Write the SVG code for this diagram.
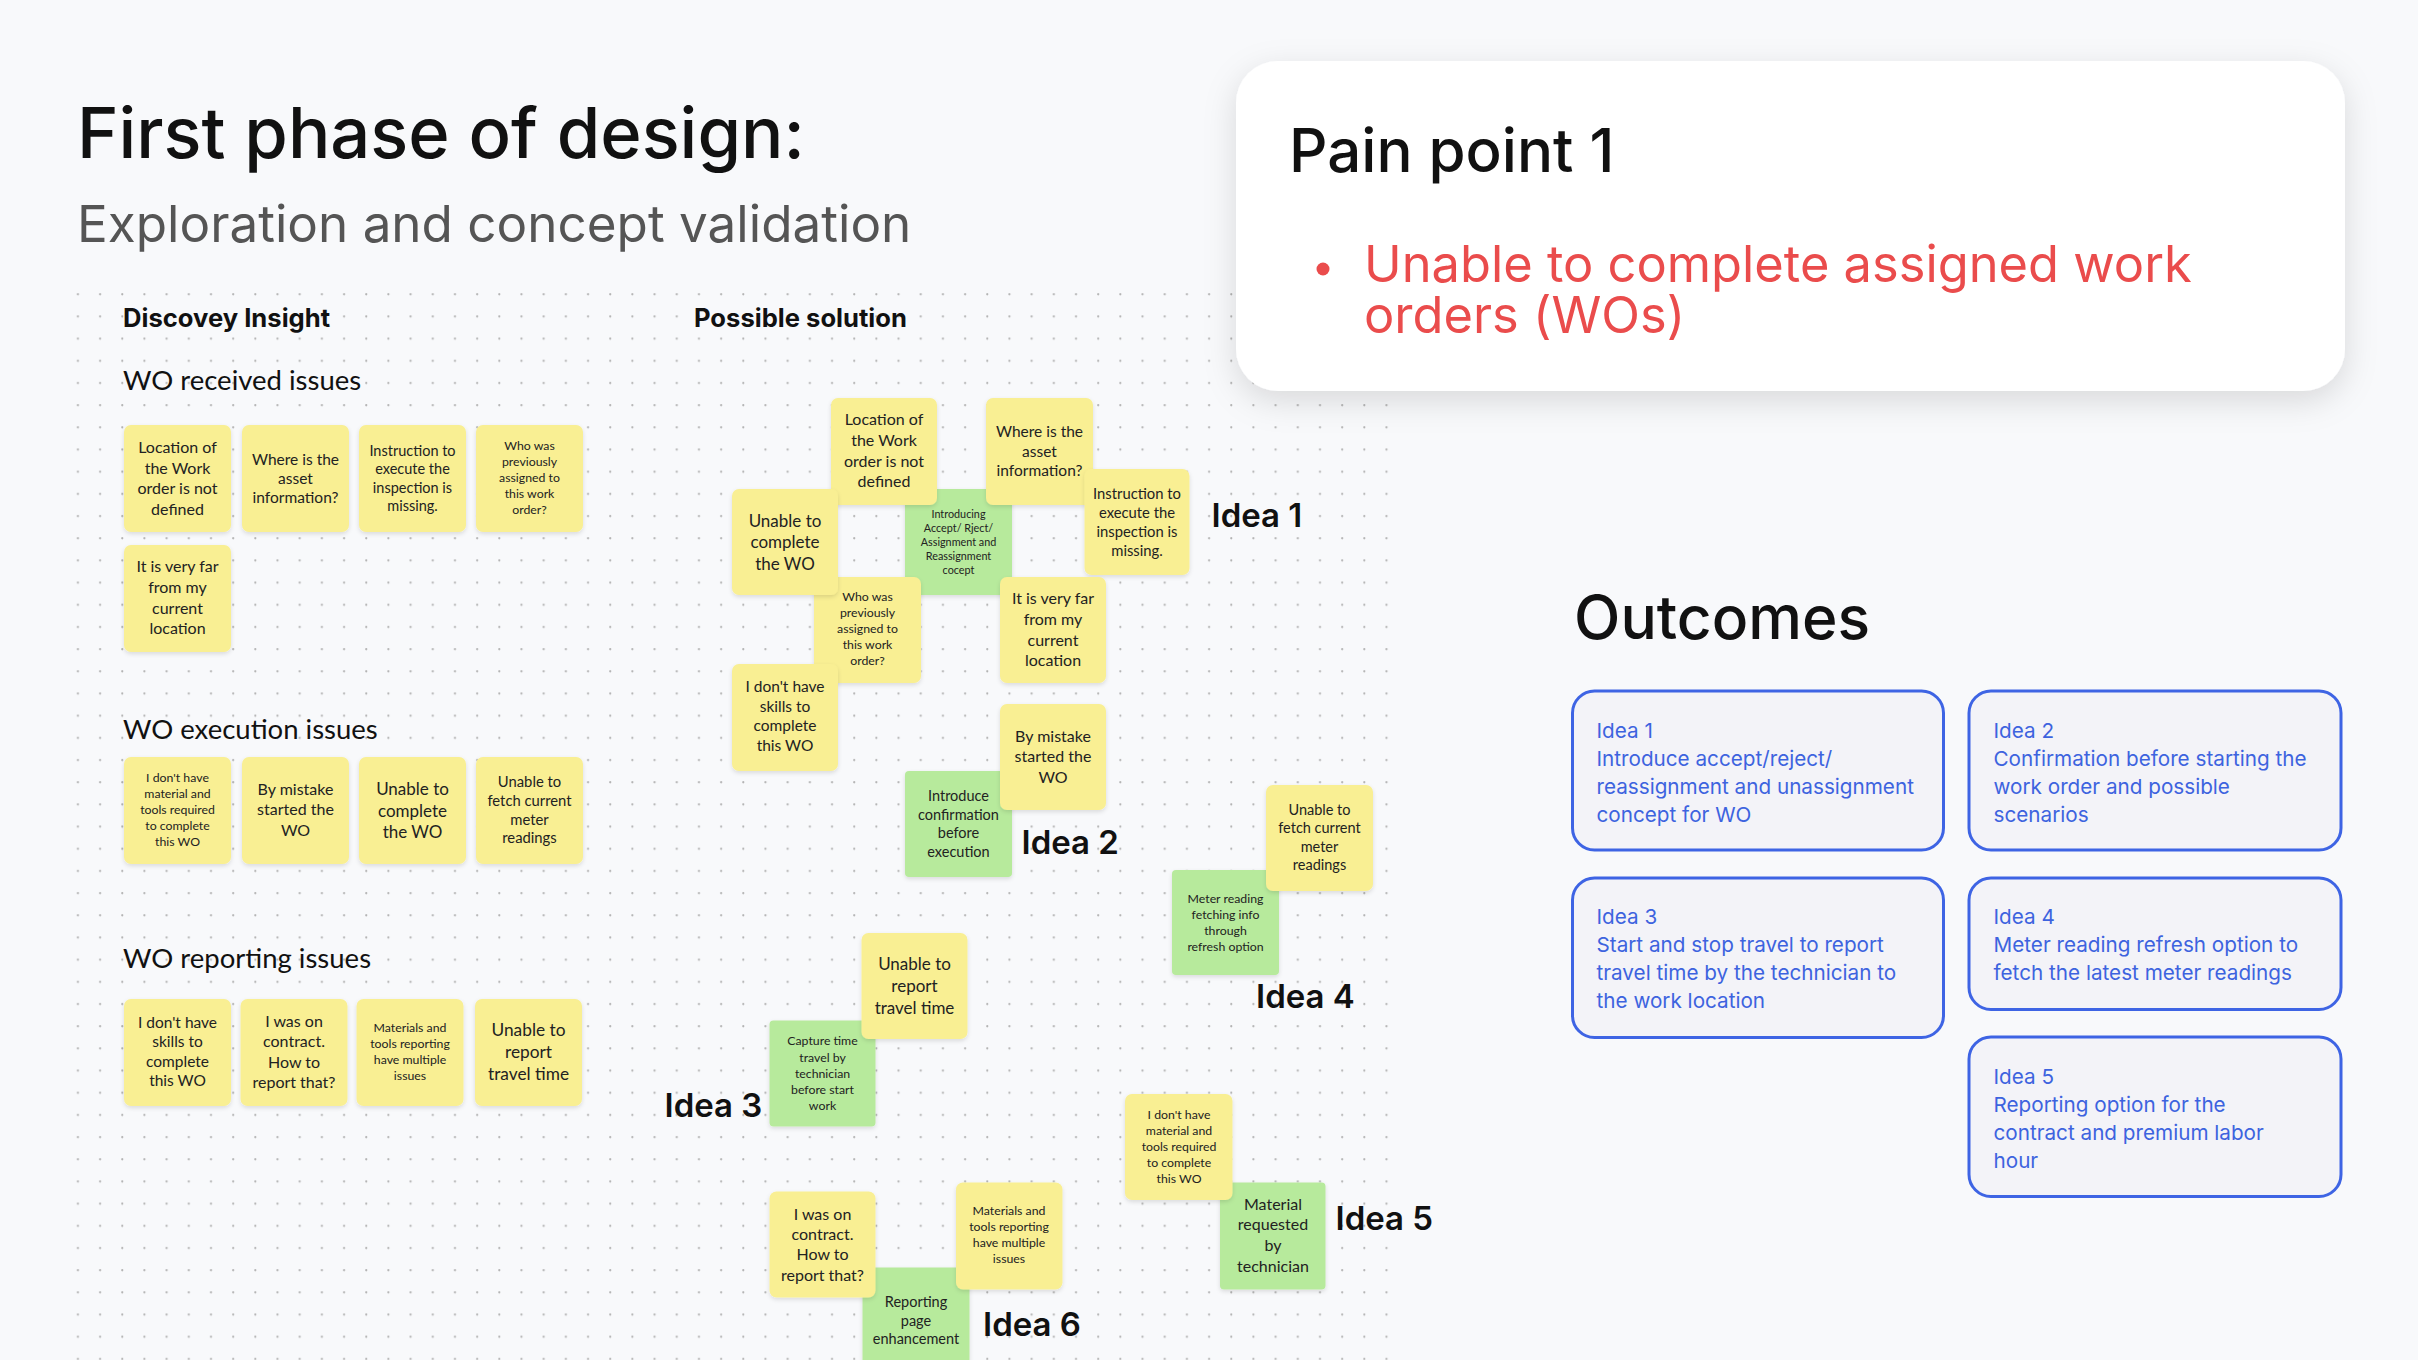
<svg xmlns="http://www.w3.org/2000/svg" width="2418" height="1360" viewBox="0 0 2418 1360">
<defs>
<style>
.bg{fill:#f8f9fb}
.y{fill:#f9ef93;filter:url(#ns)}
.g{fill:#b7ea9c;filter:url(#ns)}
.st{font-family:Lato,"Open Sans","Liberation Sans",sans-serif;fill:#222;text-anchor:middle}
.hd{font-family:Inter,"Liberation Sans",sans-serif}
.sec{font-family:Lato,"Open Sans","Liberation Sans",sans-serif;font-size:27.5px;fill:#111}
.idea{font-family:Inter,"Liberation Sans",sans-serif;font-size:33px;font-weight:600;fill:#111}
.ob{fill:#f3f3f8;stroke:#3e64e4;stroke-width:3}
.ot{font-family:Inter,"Liberation Sans",sans-serif;font-size:20.7px;fill:#3d63df}
</style>
<filter id="ns" x="-10%" y="-10%" width="120%" height="130%">
<feDropShadow dx="0" dy="2" stdDeviation="2" flood-color="#000" flood-opacity="0.12"/>
</filter>
<filter id="cs" x="-10%" y="-20%" width="120%" height="150%">
<feDropShadow dx="0" dy="10" stdDeviation="16" flood-color="#000" flood-opacity="0.13"/>
</filter>
<pattern id="dots" x="76.7" y="293.1" width="22.18" height="22.18" patternUnits="userSpaceOnUse">
<circle cx="1.2" cy="1.2" r="1.1" fill="#b3b3b3"/>
</pattern>
</defs>
<rect class="bg" x="0" y="0" width="2418" height="1360"/>
<rect x="70" y="285" width="1322" height="1075" fill="url(#dots)"/>

<g id="title">
<text class="hd" x="77" y="158" font-size="70.5" font-weight="500" fill="#111">First phase of design:</text>
<text class="hd" x="77" y="242" font-size="51.2" fill="#555">Exploration and concept validation</text>
</g>
<g id="col-heads">
<text class="hd" x="123" y="327" font-size="25.6" font-weight="700" fill="#111">Discovey Insight</text>
<text class="hd" x="694" y="327" font-size="25.6" font-weight="700" fill="#111">Possible solution</text>
<text class="sec" x="123" y="390">WO received issues</text>
<text class="sec" x="123" y="739">WO execution issues</text>
<text class="sec" x="123" y="968">WO reporting issues</text>
</g>

<g id="left-received-1"><rect class="y" x="124" y="425" width="107" height="107" rx="7"/>
<text class="st" font-size="16" y="453"><tspan x="177.5">Location of</tspan><tspan x="177.5" dy="20.5">the Work</tspan><tspan x="177.5" dy="20.5">order is not</tspan><tspan x="177.5" dy="20.5">defined</tspan></text></g>
<g id="left-received-2"><rect class="y" x="242" y="425" width="107" height="107" rx="7"/>
<text class="st" font-size="15.5" y="464.5"><tspan x="295.5">Where is the</tspan><tspan x="295.5" dy="19.2">asset</tspan><tspan x="295.5" dy="19.2">information?</tspan></text></g>
<g id="left-received-3"><rect class="y" x="359" y="425" width="107" height="107" rx="7"/>
<text class="st" font-size="14.5" y="455.8"><tspan x="412.5">Instruction to</tspan><tspan x="412.5" dy="18.4">execute the</tspan><tspan x="412.5" dy="18.4">inspection is</tspan><tspan x="412.5" dy="18.4">missing.</tspan></text></g>
<g id="left-received-4"><rect class="y" x="476" y="425" width="107" height="107" rx="7"/>
<text class="st" font-size="12.3" y="449.8"><tspan x="529.5">Who was</tspan><tspan x="529.5" dy="16">previously</tspan><tspan x="529.5" dy="16">assigned to</tspan><tspan x="529.5" dy="16">this work</tspan><tspan x="529.5" dy="16">order?</tspan></text></g>
<g id="left-received-5"><rect class="y" x="124" y="545" width="107" height="107" rx="7"/>
<text class="st" font-size="16" y="572"><tspan x="177.5">It is very far</tspan><tspan x="177.5" dy="20.8">from my</tspan><tspan x="177.5" dy="20.8">current</tspan><tspan x="177.5" dy="20.8">location</tspan></text></g>

<g id="left-exec-1"><rect class="y" x="124" y="757" width="107" height="107" rx="7"/>
<text class="st" font-size="12.3" y="782"><tspan x="177.5">I don't have</tspan><tspan x="177.5" dy="16">material and</tspan><tspan x="177.5" dy="16">tools required</tspan><tspan x="177.5" dy="16">to complete</tspan><tspan x="177.5" dy="16">this WO</tspan></text></g>
<g id="left-exec-2"><rect class="y" x="242" y="757" width="107" height="107" rx="7"/>
<text class="st" font-size="16" y="794.6"><tspan x="295.5">By mistake</tspan><tspan x="295.5" dy="20.7">started the</tspan><tspan x="295.5" dy="20.7">WO</tspan></text></g>
<g id="left-exec-3"><rect class="y" x="359" y="757" width="107" height="107" rx="7"/>
<text class="st" font-size="17" y="795"><tspan x="412.5">Unable to</tspan><tspan x="412.5" dy="21.5">complete</tspan><tspan x="412.5" dy="21.5">the WO</tspan></text></g>
<g id="left-exec-4"><rect class="y" x="476" y="757" width="107" height="107" rx="7"/>
<text class="st" font-size="14.8" y="787"><tspan x="529.5">Unable to</tspan><tspan x="529.5" dy="18.8">fetch current</tspan><tspan x="529.5" dy="18.8">meter</tspan><tspan x="529.5" dy="18.8">readings</tspan></text></g>

<g id="left-report-1"><rect class="y" x="124" y="999" width="107" height="107" rx="7"/>
<text class="st" font-size="15.5" y="1027.8"><tspan x="177.5">I don't have</tspan><tspan x="177.5" dy="19.5">skills to</tspan><tspan x="177.5" dy="19.5">complete</tspan><tspan x="177.5" dy="19.5">this WO</tspan></text></g>
<g id="left-report-2"><rect class="y" x="240.5" y="999" width="107" height="107" rx="7"/>
<text class="st" font-size="16" y="1027"><tspan x="294">I was on</tspan><tspan x="294" dy="20.4">contract.</tspan><tspan x="294" dy="20.4">How to</tspan><tspan x="294" dy="20.4">report that?</tspan></text></g>
<g id="left-report-3"><rect class="y" x="356.5" y="999" width="107" height="107" rx="7"/>
<text class="st" font-size="12.3" y="1032"><tspan x="410">Materials and</tspan><tspan x="410" dy="16">tools reporting</tspan><tspan x="410" dy="16">have multiple</tspan><tspan x="410" dy="16">issues</tspan></text></g>
<g id="left-report-4"><rect class="y" x="475" y="999" width="107" height="107" rx="7"/>
<text class="st" font-size="17.3" y="1036"><tspan x="528.5">Unable to</tspan><tspan x="528.5" dy="21.8">report</tspan><tspan x="528.5" dy="21.8">travel time</tspan></text></g>

<g id="idea1-concept"><rect class="g" x="905" y="489" width="107" height="106" rx="4"/>
<text class="st" font-size="10.8" y="517.9"><tspan x="958.5">Introducing</tspan><tspan x="958.5" dy="14">Accept/ Rject/</tspan><tspan x="958.5" dy="14">Assignment and</tspan><tspan x="958.5" dy="14">Reassignment</tspan><tspan x="958.5" dy="14">cocept</tspan></text></g>
<g id="idea1-location"><rect class="y" x="831" y="398" width="106" height="107" rx="7"/>
<text class="st" font-size="16" y="425.3"><tspan x="884">Location of</tspan><tspan x="884" dy="20.7">the Work</tspan><tspan x="884" dy="20.7">order is not</tspan><tspan x="884" dy="20.7">defined</tspan></text></g>
<g id="idea1-asset"><rect class="y" x="986" y="398" width="107" height="107" rx="7"/>
<text class="st" font-size="15.5" y="436.8"><tspan x="1039.5">Where is the</tspan><tspan x="1039.5" dy="19.7">asset</tspan><tspan x="1039.5" dy="19.7">information?</tspan></text></g>
<g id="idea1-who"><rect class="y" x="814" y="577" width="107" height="106" rx="7"/>
<text class="st" font-size="12.3" y="600.8"><tspan x="867.5">Who was</tspan><tspan x="867.5" dy="16">previously</tspan><tspan x="867.5" dy="16">assigned to</tspan><tspan x="867.5" dy="16">this work</tspan><tspan x="867.5" dy="16">order?</tspan></text></g>
<g id="idea1-unable"><rect class="y" x="732" y="489" width="106" height="106" rx="7"/>
<text class="st" font-size="17" y="526.6"><tspan x="785">Unable to</tspan><tspan x="785" dy="21.5">complete</tspan><tspan x="785" dy="21.5">the WO</tspan></text></g>
<g id="idea1-instruction"><rect class="y" x="1084.5" y="469" width="105" height="106" rx="7"/>
<text class="st" font-size="14.8" y="499.2"><tspan x="1137">Instruction to</tspan><tspan x="1137" dy="18.8">execute the</tspan><tspan x="1137" dy="18.8">inspection is</tspan><tspan x="1137" dy="18.8">missing.</tspan></text></g>
<g id="idea1-far"><rect class="y" x="1000" y="577" width="106" height="106" rx="7"/>
<text class="st" font-size="16" y="604.3"><tspan x="1053">It is very far</tspan><tspan x="1053" dy="20.6">from my</tspan><tspan x="1053" dy="20.6">current</tspan><tspan x="1053" dy="20.6">location</tspan></text></g>
<g id="idea1-skills"><rect class="y" x="732" y="664" width="106" height="107" rx="7"/>
<text class="st" font-size="15.5" y="692.4"><tspan x="785">I don't have</tspan><tspan x="785" dy="19.5">skills to</tspan><tspan x="785" dy="19.5">complete</tspan><tspan x="785" dy="19.5">this WO</tspan></text></g>

<g id="idea2-confirm"><rect class="g" x="905" y="771" width="107" height="106" rx="4"/>
<text class="st" font-size="14.5" y="801.2"><tspan x="958.5">Introduce</tspan><tspan x="958.5" dy="18.5">confirmation</tspan><tspan x="958.5" dy="18.5">before</tspan><tspan x="958.5" dy="18.5">execution</tspan></text></g>
<g id="idea2-mistake"><rect class="y" x="1000" y="704" width="106" height="106" rx="7"/>
<text class="st" font-size="16" y="742"><tspan x="1053">By mistake</tspan><tspan x="1053" dy="20.3">started the</tspan><tspan x="1053" dy="20.3">WO</tspan></text></g>

<g id="idea4-refresh"><rect class="g" x="1172" y="870" width="107" height="105" rx="4"/>
<text class="st" font-size="12.3" y="902.6"><tspan x="1225.5">Meter reading</tspan><tspan x="1225.5" dy="16.2">fetching info</tspan><tspan x="1225.5" dy="16.2">through</tspan><tspan x="1225.5" dy="16.2">refresh option</tspan></text></g>
<g id="idea4-fetch"><rect class="y" x="1266" y="785" width="107" height="106" rx="7"/>
<text class="st" font-size="14.5" y="814.6"><tspan x="1319.5">Unable to</tspan><tspan x="1319.5" dy="18.5">fetch current</tspan><tspan x="1319.5" dy="18.5">meter</tspan><tspan x="1319.5" dy="18.5">readings</tspan></text></g>

<g id="idea3-capture"><rect class="g" x="769.5" y="1020.5" width="106" height="106" rx="4"/>
<text class="st" font-size="12.3" y="1045.4"><tspan x="822.5">Capture time</tspan><tspan x="822.5" dy="16.1">travel by</tspan><tspan x="822.5" dy="16.1">technician</tspan><tspan x="822.5" dy="16.1">before start</tspan><tspan x="822.5" dy="16.1">work</tspan></text></g>
<g id="idea3-travel"><rect class="y" x="861.5" y="933" width="106" height="106" rx="7"/>
<text class="st" font-size="17" y="970.3"><tspan x="914.5">Unable to</tspan><tspan x="914.5" dy="21.7">report</tspan><tspan x="914.5" dy="21.7">travel time</tspan></text></g>

<g id="idea5-requested"><rect class="g" x="1220" y="1182.5" width="105.5" height="107" rx="4"/>
<text class="st" font-size="16" y="1209.6"><tspan x="1273">Material</tspan><tspan x="1273" dy="20.8">requested</tspan><tspan x="1273" dy="20.8">by</tspan><tspan x="1273" dy="20.8">technician</tspan></text></g>
<g id="idea5-material"><rect class="y" x="1125" y="1094" width="107.5" height="106" rx="7"/>
<text class="st" font-size="12.3" y="1118.9"><tspan x="1179">I don't have</tspan><tspan x="1179" dy="16.05">material and</tspan><tspan x="1179" dy="16.05">tools required</tspan><tspan x="1179" dy="16.05">to complete</tspan><tspan x="1179" dy="16.05">this WO</tspan></text></g>

<g id="idea6-page"><rect class="g" x="862.5" y="1267.5" width="107" height="106" rx="4"/>
<text class="st" font-size="14.5" y="1307.1"><tspan x="916">Reporting</tspan><tspan x="916" dy="18.4">page</tspan><tspan x="916" dy="18.4">enhancement</tspan></text></g>
<g id="idea6-contract"><rect class="y" x="769.5" y="1191.5" width="106" height="106" rx="7"/>
<text class="st" font-size="16" y="1219.6"><tspan x="822.5">I was on</tspan><tspan x="822.5" dy="20.4">contract.</tspan><tspan x="822.5" dy="20.4">How to</tspan><tspan x="822.5" dy="20.4">report that?</tspan></text></g>
<g id="idea6-materials"><rect class="y" x="956" y="1182.5" width="106.5" height="107" rx="7"/>
<text class="st" font-size="12.3" y="1215.3"><tspan x="1009">Materials and</tspan><tspan x="1009" dy="16">tools reporting</tspan><tspan x="1009" dy="16">have multiple</tspan><tspan x="1009" dy="16">issues</tspan></text></g>

<g id="idea-labels">
<text class="idea" x="1211.5" y="527.3">Idea 1</text>
<text class="idea" x="1021.5" y="854">Idea 2</text>
<text class="idea" x="664.5" y="1117">Idea 3</text>
<text class="idea" x="1256" y="1008">Idea 4</text>
<text class="idea" x="1335.5" y="1230">Idea 5</text>
<text class="idea" x="983" y="1336">Idea 6</text>
</g>

<g id="pain-point">
<rect x="1236" y="61" width="1109" height="330" rx="42" fill="#fff" filter="url(#cs)"/>
<text class="hd" x="1289" y="172" font-size="60" font-weight="500" fill="#111">Pain point 1</text>
<circle cx="1323" cy="269" r="6.5" fill="#ea4c4c"/>
<text class="hd" x="1364" y="282" font-size="50.6" fill="#ea4c4c">Unable to complete assigned work</text>
<text class="hd" x="1364" y="333" font-size="50.6" fill="#ea4c4c">orders (WOs)</text>
</g>

<g id="outcomes-title"><text class="hd" x="1574" y="639" font-size="60.5" font-weight="500" fill="#111">Outcomes</text></g>

<g id="outcome-1"><rect class="ob" x="1572.5" y="691" width="371" height="159" rx="22"/>
<text class="ot" y="737.5"><tspan x="1596.5">Idea 1</tspan><tspan x="1596.5" dy="28">Introduce accept/reject/</tspan><tspan x="1596.5" dy="28">reassignment and unassignment</tspan><tspan x="1596.5" dy="28">concept for WO</tspan></text></g>
<g id="outcome-2"><rect class="ob" x="1969" y="691" width="372" height="159" rx="22"/>
<text class="ot" y="737.5"><tspan x="1993.5">Idea 2</tspan><tspan x="1993.5" dy="28">Confirmation before starting the</tspan><tspan x="1993.5" dy="28">work order and possible</tspan><tspan x="1993.5" dy="28">scenarios</tspan></text></g>
<g id="outcome-3"><rect class="ob" x="1572.5" y="878" width="371" height="159.5" rx="22"/>
<text class="ot" y="924"><tspan x="1596.5">Idea 3</tspan><tspan x="1596.5" dy="28">Start and stop travel to report</tspan><tspan x="1596.5" dy="28">travel time by the technician to</tspan><tspan x="1596.5" dy="28">the work location</tspan></text></g>
<g id="outcome-4"><rect class="ob" x="1969" y="878" width="372" height="131.5" rx="22"/>
<text class="ot" y="924"><tspan x="1993.5">Idea 4</tspan><tspan x="1993.5" dy="28">Meter reading refresh option to</tspan><tspan x="1993.5" dy="28">fetch the latest meter readings</tspan></text></g>
<g id="outcome-5"><rect class="ob" x="1969" y="1037" width="372" height="159.5" rx="22"/>
<text class="ot" y="1084"><tspan x="1993.5">Idea 5</tspan><tspan x="1993.5" dy="28">Reporting option for the</tspan><tspan x="1993.5" dy="28">contract and premium labor</tspan><tspan x="1993.5" dy="28">hour</tspan></text></g>

<g id="connectors"/>
</svg>
